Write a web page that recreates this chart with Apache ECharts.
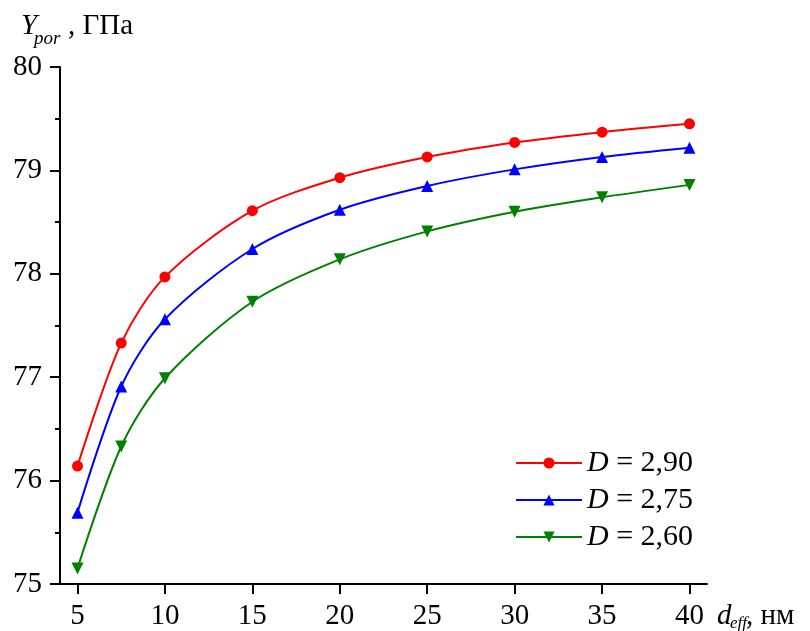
<!DOCTYPE html>
<html>
<head>
<meta charset="utf-8">
<script src="https://cdn.jsdelivr.net/npm/echarts@6/dist/echarts.min.js"></script>
<style>html,body{margin:0;padding:0;background:#fff}#c{width:810px;height:631px}</style>
</head>
<body>
<div id="c"></div>
<script>
const xValues = [5, 7.5, 10, 15, 20, 25, 30, 35, 40];
const seriesNames = ['D = 2,90', 'D = 2,75', 'D = 2,60'];
const yD290 = [76.14, 77.33, 77.97, 78.61, 78.93, 79.13, 79.27, 79.37, 79.45];
const yD275 = [75.69, 76.91, 77.56, 78.24, 78.62, 78.85, 79.01, 79.13, 79.22];
const yD260 = [75.15, 76.33, 76.99, 77.73, 78.14, 78.41, 78.60, 78.74, 78.86];
const xTickLabels = [5, 10, 15, 20, 25, 30, 35, 40];

const FONT = '"Liberation Serif", "Times New Roman", serif';
const chart = echarts.init(document.getElementById('c'), null, {renderer: 'canvas'});

function pairs(ys) { return xValues.map((x, i) => [x, ys[i]]); }

const colors = ['#ff0000', '#0000ff', '#008000'];
const symbols = [
  {symbol: 'circle', size: 11, rotate: 0},
  {symbol: 'triangle', size: 12, rotate: 0},
  {symbol: 'triangle', size: 12, rotate: 180}
];
const datasets = [yD290, yD275, yD260];

const option = {
  animation: false,
  backgroundColor: '#fff',
  grid: {left: 60, right: 103, top: 67, bottom: 47, containLabel: false},
  xAxis: {
    type: 'value', min: 4, max: 41,
    axisLine: {show: true, onZero: false, lineStyle: {color: '#000', width: 2}},
    axisTick: {show: true, inside: false, length: 10, lineStyle: {color: '#000', width: 2}, customValues: xTickLabels},
    axisLabel: {color: '#000', fontFamily: FONT, fontSize: 29, margin: 18, customValues: xTickLabels},
    splitLine: {show: false}
  },
  yAxis: {
    type: 'value', min: 75, max: 80, interval: 1,
    axisLine: {show: true, lineStyle: {color: '#000', width: 2}},
    axisTick: {show: true, inside: false, length: 10, lineStyle: {color: '#000', width: 2}},
    minorTick: {show: true, splitNumber: 2, length: 5, lineStyle: {color: '#000', width: 2}},
    axisLabel: {color: '#000', fontFamily: FONT, fontSize: 29, margin: 18},
    splitLine: {show: false}
  },
  legend: {
    orient: 'vertical', left: 515, top: 448, padding: 0,
    itemWidth: 66, itemHeight: 14, itemGap: 7,
    data: seriesNames,
    formatter: name => name.replace('D', '{i|D}'),
    textStyle: {
      color: '#000', fontFamily: FONT, fontSize: 30, lineHeight: 29,
      rich: {i: {fontStyle: 'italic', fontFamily: FONT, fontSize: 30, color: '#000'}}
    }
  },
  series: datasets.map((ys, k) => ({
    name: seriesNames[k],
    type: 'line',
    data: pairs(ys),
    smooth: 0.3,
    symbol: symbols[k].symbol,
    symbolSize: symbols[k].size,
    symbolRotate: symbols[k].rotate,
    showAllSymbol: true,
    itemStyle: {color: colors[k]},
    lineStyle: {color: colors[k], width: 2}
  })),
  graphic: [
    {type: 'text', left: 21, top: 12, style: {text: 'Y', font: 'italic 29px ' + FONT, fill: '#000'}},
    {type: 'text', left: 34, top: 29, style: {text: 'por', font: 'italic 19px ' + FONT, fill: '#000'}},
    {type: 'text', left: 68, top: 12, style: {text: ', ГПа', font: '29px ' + FONT, fill: '#000'}},
    {type: 'text', left: 717, top: 602, style: {text: 'd', font: 'italic 29px ' + FONT, fill: '#000'}},
    {type: 'text', left: 730, top: 615, style: {text: 'eff', font: 'italic 17px ' + FONT, fill: '#000'}},
    {type: 'text', left: 746, top: 602, style: {text: ', нм', font: '29px ' + FONT, fill: '#000'}}
  ]
};
chart.setOption(option);
</script>
</body>
</html>
